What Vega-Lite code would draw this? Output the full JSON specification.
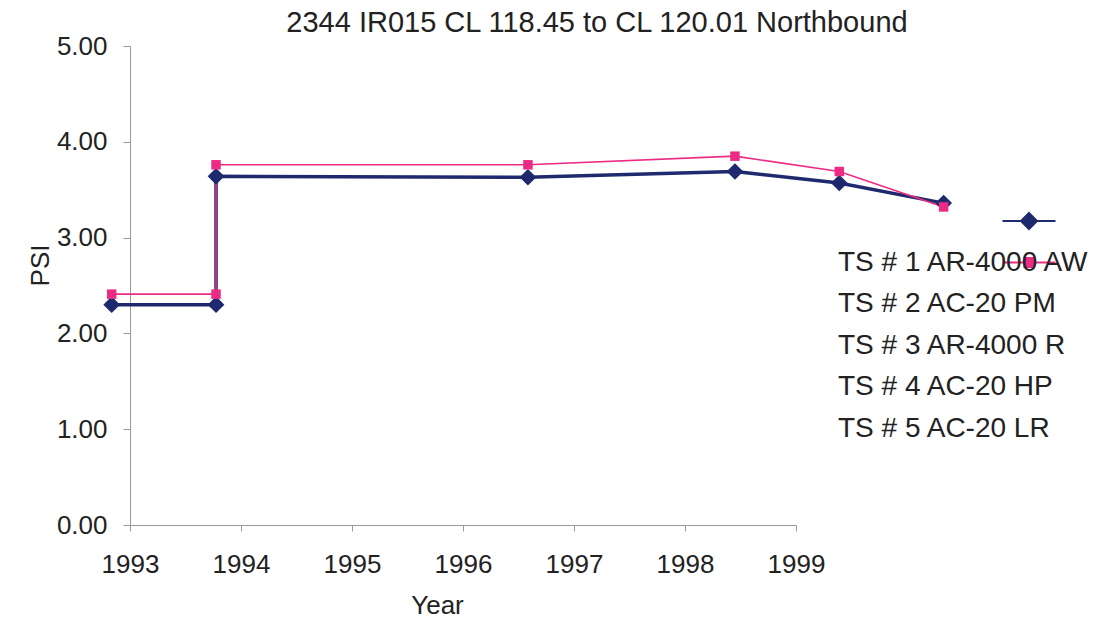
{
  "$schema": "https://vega.github.io/schema/vega-lite/v6.json",
  "width": 666,
  "height": 479,
  "autosize": {"type": "none"},
  "padding": {"left": 130, "top": 46, "right": 321, "bottom": 98},
  "background": "white",
  "config": {
    "font": "Liberation Sans",
    "view": {"stroke": null},
    "axis": {"domainColor": "#9a9a9a", "tickColor": "#9a9a9a", "labelColor": "#222222", "titleColor": "#222222", "grid": false, "titleFontWeight": "normal"}
  },
  "title": {
    "text": "2344 IR015 CL 118.45 to CL 120.01 Northbound",
    "font": "Liberation Sans",
    "fontSize": 29,
    "fontWeight": "normal",
    "color": "#222222",
    "anchor": "middle",
    "frame": "group",
    "dx": 134,
    "dy": 42,
    "baseline": "alphabetic",
    "offset": 14
  },
  "data": {
    "values": [
      {"series": "(unnamed)", "idx": 1, "year": 1992.835, "psi": 2.30},
      {"series": "(unnamed)", "idx": 2, "year": 1993.775, "psi": 2.30},
      {"series": "(unnamed)", "idx": 3, "year": 1993.775, "psi": 3.64},
      {"series": "(unnamed)", "idx": 4, "year": 1996.585, "psi": 3.63},
      {"series": "(unnamed)", "idx": 5, "year": 1998.45, "psi": 3.69},
      {"series": "(unnamed)", "idx": 6, "year": 1999.39, "psi": 3.57},
      {"series": "(unnamed)", "idx": 7, "year": 2000.33, "psi": 3.36},
      {"series": "TS # 1 AR-4000 AW", "idx": 1, "year": 1992.835, "psi": 2.41},
      {"series": "TS # 1 AR-4000 AW", "idx": 2, "year": 1993.775, "psi": 2.41},
      {"series": "TS # 1 AR-4000 AW", "idx": 3, "year": 1993.775, "psi": 3.76},
      {"series": "TS # 1 AR-4000 AW", "idx": 4, "year": 1996.585, "psi": 3.76},
      {"series": "TS # 1 AR-4000 AW", "idx": 5, "year": 1998.45, "psi": 3.85},
      {"series": "TS # 1 AR-4000 AW", "idx": 6, "year": 1999.39, "psi": 3.69},
      {"series": "TS # 1 AR-4000 AW", "idx": 7, "year": 2000.33, "psi": 3.32}
    ]
  },
  "encoding": {
    "x": {
      "field": "year", "type": "quantitative",
      "scale": {"domain": [1993, 1999], "nice": false, "zero": false},
      "axis": {"title": "Year", "values": [1993, 1994, 1995, 1996, 1997, 1998, 1999], "format": "d", "tickSize": 6, "labelPadding": 20, "labelFontSize": 26, "titleFontSize": 26, "titleX": 307, "titleY": 80, "titleBaseline": "middle", "labelFlush": false, "labelOverlap": false}
    },
    "y": {
      "field": "psi", "type": "quantitative",
      "scale": {"domain": [0, 5], "nice": false},
      "axis": {"title": "PSI", "values": [0, 1, 2, 3, 4, 5], "format": ".2f", "tickSize": 7, "labelPadding": 16, "labelFontSize": 26, "titleFontSize": 26, "titleX": -90, "titleY": 219, "titleAngle": -90, "titleAlign": "center", "titleBaseline": "middle"}
    }
  },
  "layer": [
    {
      "mark": {"type": "point", "filled": true, "opacity": 0},
      "encoding": {
        "color": {"field": "series", "type": "nominal",
          "scale": {"domain": ["(unnamed)", "TS # 1 AR-4000 AW", "TS # 2 AC-20 PM", "TS # 3 AR-4000 R", "TS # 4 AC-20 HP", "TS # 5 AC-20 LR"],
                    "range": ["#1f2a6e", "#ec2c84", "transparent", "transparent", "transparent", "transparent"]},
          "legend": {
            "orient": "none", "legendX": 885, "legendY": 161, "title": null, "padding": 0,
            "symbolSize": 400, "labelOffset": -205, "labelFontSize": 28, "labelColor": "#222222", "labelLimit": 0, "rowPadding": 13.5,
            "labelFont": "Liberation Sans", "symbolOpacity": 1, "symbolStrokeWidth": 2,
            "labelExpr": "datum.value == '(unnamed)' ? '' : datum.label"
          }},
        "shape": {"field": "series", "type": "nominal",
          "scale": {"domain": ["(unnamed)", "TS # 1 AR-4000 AW", "TS # 2 AC-20 PM", "TS # 3 AR-4000 R", "TS # 4 AC-20 HP", "TS # 5 AC-20 LR"],
                    "range": ["M-2.65,0H2.65M0,-0.8L0.8,0L0,0.8L-0.8,0Z", "M-2.65,0H2.65M-0.45,-0.45H0.45V0.45H-0.45Z", "circle", "circle", "circle", "circle"]},
          "legend": {
            "orient": "none", "legendX": 885, "legendY": 161, "title": null, "padding": 0,
            "symbolSize": 400, "labelOffset": -205, "labelFontSize": 28, "labelColor": "#222222", "labelLimit": 0, "rowPadding": 13.5,
            "labelFont": "Liberation Sans", "symbolOpacity": 1, "symbolStrokeWidth": 2,
            "labelExpr": "datum.value == '(unnamed)' ? '' : datum.label"
          }}
      }
    },
    {
      "mark": {"type": "line"},
      "encoding": {
        "order": {"field": "idx", "type": "quantitative"},
        "color": {"field": "series", "type": "nominal", "legend": null},
        "strokeWidth": {"field": "series", "type": "nominal",
          "scale": {"domain": ["(unnamed)", "TS # 1 AR-4000 AW"], "range": [3.5, 1.6]},
          "legend": null}
      }
    },
    {
      "transform": [{"filter": "datum.series == '(unnamed)'"}],
      "mark": {"type": "point", "shape": "diamond", "filled": true, "size": 280, "color": "#1f2a6e", "opacity": 1}
    },
    {
      "transform": [{"filter": "datum.series != '(unnamed)'"}],
      "mark": {"type": "point", "shape": "square", "filled": true, "size": 90, "color": "#ec2c84", "opacity": 1}
    }
  ]
}
